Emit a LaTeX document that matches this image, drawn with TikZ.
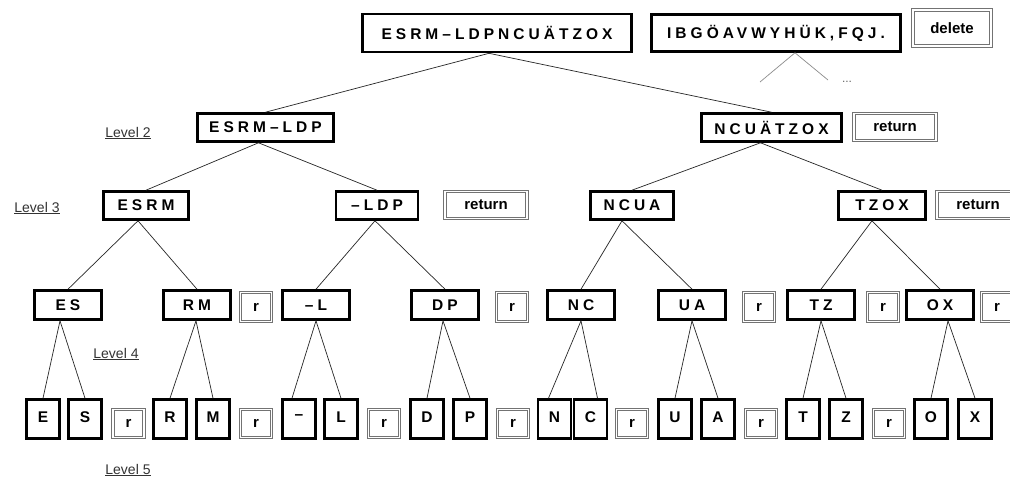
\documentclass[tikz,border=0pt]{standalone}
\usepackage{fontspec}
\setmainfont{Liberation Sans}
\newfontfamily\lsp[LetterSpace=26]{Liberation Sans}
\usetikzlibrary{calc}
\begin{document}
\begin{tikzpicture}[x=1pt,y=-1pt,
  box/.style={draw=black,line width=2.6pt,inner sep=0pt,
    font=\lsp\bfseries\fontsize{15.5}{17}\selectfont},
  wbox/.style={box,minimum width=67pt,minimum height=29pt},
  lbox/.style={box,minimum width=33pt,minimum height=39pt,text depth=3pt},
  rbox/.style={draw=black!55,double=white,double distance=1.3pt,line width=1.1pt,
    inner sep=0pt,font=\bfseries\fontsize{15}{17}\selectfont},
  rsm/.style={rbox,minimum width=31pt,minimum height=29pt},
  rlow/.style={rbox,minimum width=31pt,minimum height=28pt},
  rret/.style={rbox,minimum width=82pt,minimum height=27pt},
  lvl/.style={inner sep=0pt,text=black!80,font=\fontsize{14}{16}\selectfont},
  edge/.style={draw=black!85,line width=0.7pt},
  gedge/.style={draw=black!45,line width=0.7pt}
]
\clip (0,0) rectangle (1010,484);
\fill[white] (0,0) rectangle (1010,484);

% top
\node[box,minimum width=269pt,minimum height=38pt] (top) at (497,33) {ESRM–LDPNCUÄTZOX};
\node[box,minimum width=249pt,minimum height=37pt] (ibg) at (776,33) {IBGÖAVWYHÜK,FQJ.};
\node[rbox,minimum width=78pt,minimum height=36pt] (del) at (952,28) {delete};
\coordinate (g1) at (760,82);
\coordinate (g2) at (828,80);
\draw[gedge] (g1) -- ($(ibg.south)+(19,0)$) -- (g2);
\node[text=black!60,font=\fontsize{12}{12}\selectfont] (dots) at (847,82) {...};

% level 2
\node[box,minimum width=136pt,minimum height=28pt] (a2) at (265.5,127.5) {ESRM–LDP};
\node[box,minimum width=140pt,minimum height=28pt] (b2) at (771.5,127.5) {NCUÄTZOX};
\node[rret] (ret2) at (895,127) {return};

% level 3
\node[box,minimum width=85pt,minimum height=28pt] (a3) at (146,205.5) {ESRM};
\node[box,minimum width=82pt,minimum height=28pt] (b3) at (377,205.5) {–LDP};
\node[rret] (ret3a) at (486,205) {return};
\node[box,minimum width=83pt,minimum height=28pt] (c3) at (632,205.5) {NCUA};
\node[box,minimum width=87pt,minimum height=28pt] (d3) at (882,205.5) {TZOX};
\node[rret] (ret3b) at (978,205) {return};

% level 4
\node[wbox] (es) at (68,305) {ES};
\node[wbox] (rm) at (197,305) {RM};
\node[rsm] (r4a) at (256,307) {r};
\node[wbox] (dl) at (316,305) {–L};
\node[wbox] (dp) at (445,305) {DP};
\node[rsm] (r4b) at (512,307) {r};
\node[wbox] (nc) at (581,305) {NC};
\node[wbox] (ua) at (692,305) {UA};
\node[rsm] (r4c) at (759,307) {r};
\node[wbox] (tz) at (821,305) {TZ};
\node[rsm] (r4d) at (883,307) {r};
\node[wbox] (ox) at (940,305) {OX};
\node[rsm] (r4e) at (997,307) {r};

% level 5
\node[lbox] (e) at (43,419) {E};
\node[lbox] (s) at (85,419) {S};
\node[rlow] (r5a) at (128.5,423.5) {r};
\node[lbox] (r) at (170,419) {R};
\node[lbox] (m) at (213,419) {M};
\node[rlow] (r5b) at (256,423.5) {r};
\node[lbox] (dash) at (299,419) {–};
\node[lbox] (l) at (341,419) {L};
\node[rlow] (r5c) at (384,423.5) {r};
\node[lbox] (d) at (427,419) {D};
\node[lbox] (p) at (470,419) {P};
\node[rlow] (r5d) at (513,423.5) {r};
\node[lbox] (n) at (554.5,419) {N};
\node[lbox] (c) at (590.5,419) {C};
\node[rlow] (r5e) at (632,423.5) {r};
\node[lbox] (u) at (675,419) {U};
\node[lbox] (aa) at (718,419) {A};
\node[rlow] (r5f) at (761,423.5) {r};
\node[lbox] (t) at (803,419) {T};
\node[lbox] (z) at (846,419) {Z};
\node[rlow] (r5g) at (889,423.5) {r};
\node[lbox] (o) at (931,419) {O};
\node[lbox] (x) at (975,419) {X};

% level labels
\node[lvl] (lv2) at (128,133) {\underline{Level 2}};
\node[lvl] (lv3) at (37,208) {\underline{Level 3}};
\node[lvl] (lv4) at (116,354) {\underline{Level 4}};
\node[lvl] (lv5) at (128,470) {\underline{Level 5}};

% edges
\draw[edge] (a2.north) -- ($(top.south)+(-8,0)$) -- (b2.north);
\draw[edge] (a3.north) -- ($(a2.south)+(-7,0)$) -- (b3.north);
\draw[edge] (c3.north) -- ($(b2.south)+(-11,0)$) -- (d3.north);
\draw[edge] (es.north) -- ($(a3.south)+(-8,0)$) -- (rm.north);
\draw[edge] (dl.north) -- ($(b3.south)+(-2,0)$) -- (dp.north);
\draw[edge] (nc.north) -- ($(c3.south)+(-10,0)$) -- (ua.north);
\draw[edge] (tz.north) -- ($(d3.south)+(-10,0)$) -- (ox.north);
\draw[edge] (e.north) -- ($(es.south)+(-8,0)$) -- (s.north);
\draw[edge] (r.north) -- ($(rm.south)+(-1,0)$) -- (m.north);
\draw[edge] ($(dash.north)+(-7,0)$) -- (dl.south) -- (l.north);
\draw[edge] (d.north) -- ($(dp.south)+(-2,0)$) -- (p.north);
\draw[edge] ($(n.north)+(-6,0)$) -- (nc.south) -- ($(c.north)+(7,0)$);
\draw[edge] (u.north) -- (ua.south) -- (aa.north);
\draw[edge] (t.north) -- (tz.south) -- (z.north);
\draw[edge] (o.north) -- ($(ox.south)+(8,0)$) -- (x.north);
\end{tikzpicture}
\end{document}
